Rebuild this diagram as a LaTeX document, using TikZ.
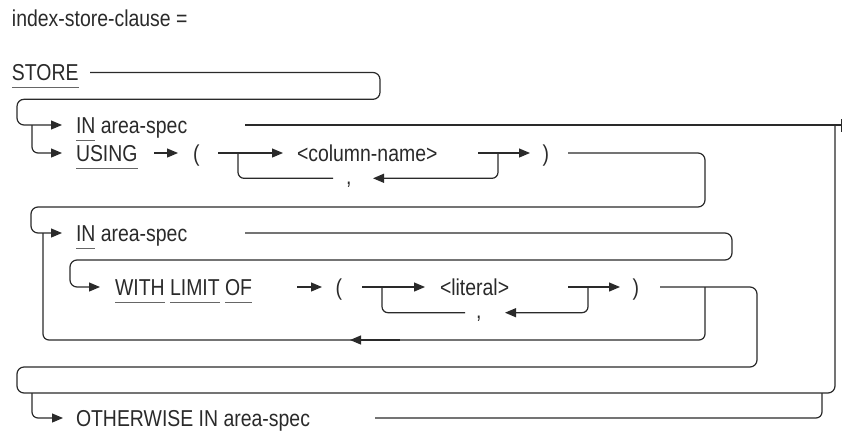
\documentclass[tikz,border=0pt]{standalone}
\usepackage{fontspec}
\setmainfont{Liberation Sans}[FakeStretch=0.845]
\usetikzlibrary{arrows.meta}
\definecolor{ink}{HTML}{2A2A2A}
\definecolor{ulgray}{HTML}{666666}
\newcommand\ulkw[1]{\setbox0=\hbox{#1}\rlap{\textcolor{ulgray}{\rule[-7.3pt]{\wd0}{0.9pt}}}\box0\relax}
\tikzset{
  conn/.style={draw=ink, line width=1.2pt, rounded corners=7pt},
  brn/.style={draw=ink, line width=1.2pt, rounded corners=6pt},
  arr/.style={-{Triangle[length=11pt,width=9pt]}},
  txt/.style={anchor=base west, inner sep=0pt, outer sep=0pt, text=ink, font=\fontsize{23}{27}\selectfont},
}
\begin{document}
\begin{tikzpicture}[x=1pt,y=-1pt]
\useasboundingbox (0,0) rectangle (843,432);
% texts
\node[txt] (title) at (12,26.7) {index-store-clause =};
\node[txt] (store) at (12,80.5) {\ulkw{STORE}};
\node[txt] (in1) at (76,133.3) {\ulkw{IN} area-spec};
\node[txt] (using) at (76,161.2) {\ulkw{USING}};
\node[txt] (lp1) at (193,161.2) {(};
\node[txt] (col) at (297,161.2) {<column-name>};
\node[txt] (cm1) at (346,184) {,};
\node[txt] (rp1) at (542.5,161.2) {)};
\node[txt] (in2) at (76,241.2) {\ulkw{IN} area-spec};
\node[txt] (wlo) at (115,295.2) {\ulkw{WITH} \ulkw{LIMIT} \ulkw{OF}};
\node[txt] (lp2) at (335.5,295.2) {(};
\node[txt] (lit) at (440,295.2) {<literal>};
\node[txt] (cm2) at (476,318.5) {,};
\node[txt] (rp2) at (632.5,295.2) {)};
\node[txt] (oth) at (76,426.2) {OTHERWISE IN area-spec};
% STORE connector
\draw[conn,arr] (90,72.5) -- (380,72.5) -- (380,99.3) -- (17,99.3) -- (17,125) -- (62,125);
\draw[brn,arr] (32,125) -- (32,153) -- (62,153);
% IN area-spec 1 to end
\draw[conn] (245,125) -- (842,125);
\draw[draw=ink,line width=1.8pt] (841.5,119) -- (841.5,132);
% USING row
\draw[conn,arr] (154,153) -- (178,153);
\draw[conn,arr] (218,153) -- (283,153);
\draw[brn] (238,153) -- (238,178.3) -- (333,178.3);
\draw[brn,arr] (498,153) -- (498,178.3) -- (373,178.3);
\draw[conn,arr] (478,153) -- (530,153);
\draw[conn,arr] (568,153) -- (705,153) -- (705,207) -- (31,207) -- (31,233) -- (62,233);
% IN area-spec 2
\draw[conn,arr] (245,233) -- (732,233) -- (732,260) -- (70,260) -- (70,287) -- (100,287);
% WITH LIMIT OF row
\draw[conn,arr] (297,287) -- (322,287);
\draw[conn,arr] (362,287) -- (425,287);
\draw[brn] (382,287) -- (382,312.7) -- (465,312.7);
\draw[brn,arr] (588,287) -- (588,312.7) -- (505,312.7);
\draw[conn,arr] (568,287) -- (620,287);
% repeat loop
\draw[brn] (705,287) -- (705,340) -- (43,340) -- (43,233);
\draw[draw=ink,line width=1.2pt,arr] (400,340) -- (350,340);
% to OTHERWISE and end
\draw[conn] (660,287) -- (757,287) -- (757,367) -- (17,367) -- (17,393) -- (835,393) -- (835,125);
\draw[brn,arr] (32,393) -- (32,418) -- (63,418);
\draw[brn] (375,418) -- (822,418) -- (822,393);
\end{tikzpicture}
\end{document}
